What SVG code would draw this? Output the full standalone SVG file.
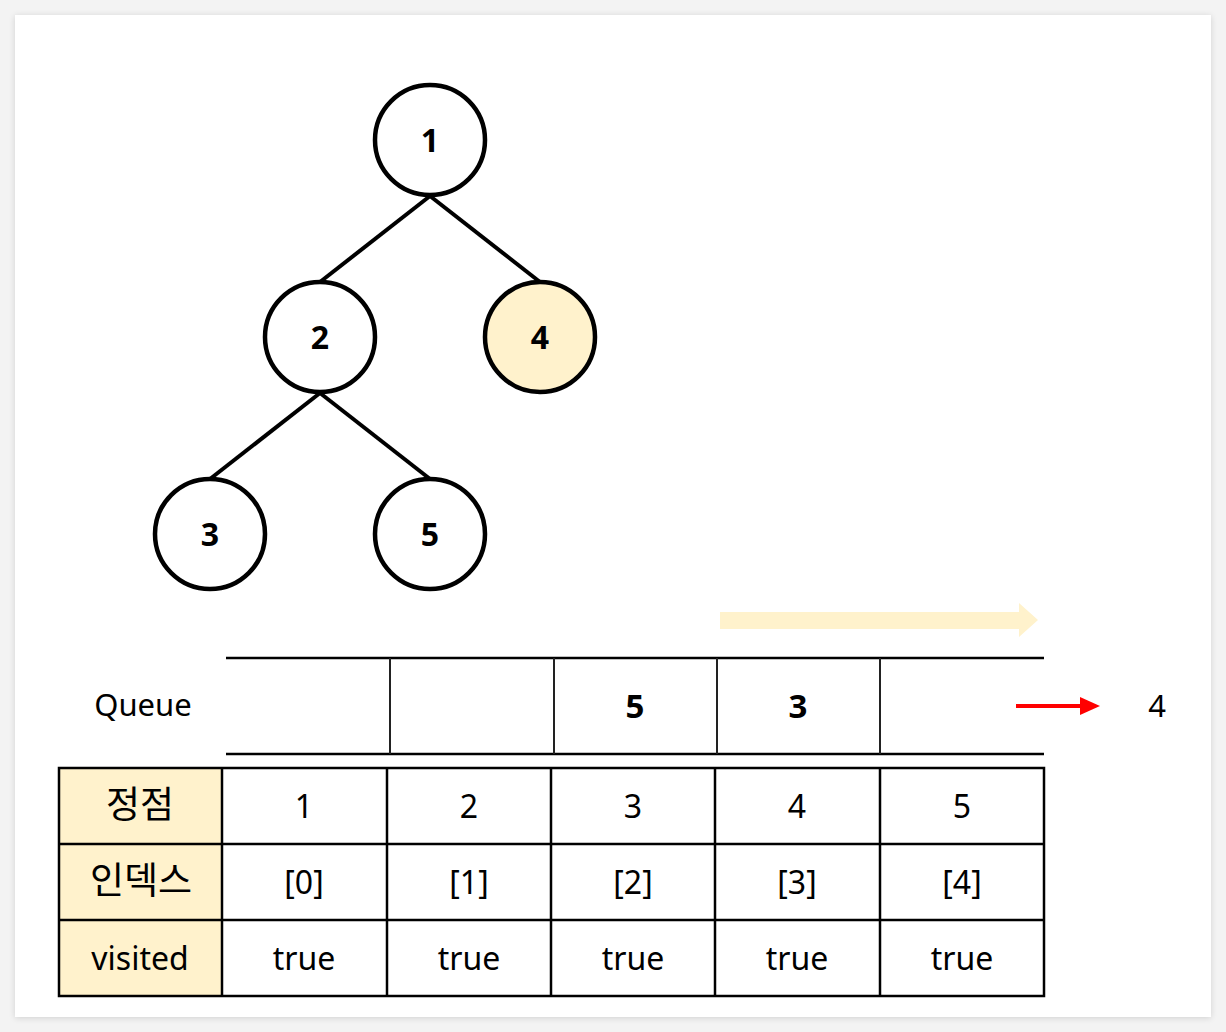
<svg xmlns="http://www.w3.org/2000/svg" width="1226" height="1032" viewBox="0 0 1226 1032">
<defs>
<filter id="sh" x="-5%" y="-5%" width="110%" height="110%"><feGaussianBlur in="SourceAlpha" stdDeviation="3"/><feOffset dy="1"/><feComponentTransfer><feFuncA type="linear" slope="0.15"/></feComponentTransfer><feMerge><feMergeNode/><feMergeNode in="SourceGraphic"/></feMerge></filter>
</defs>
<style>
.node circle{fill:#fff;stroke:#000;stroke-width:4.5}
.node text{font-family:"Noto Sans",sans-serif;font-weight:bold;font-size:32px;text-anchor:middle}
.edge{stroke:#000;stroke-width:4;fill:none}
.t{font-family:"Noto Sans",sans-serif;font-size:32px;text-anchor:middle;fill:#000}
.k{font-family:"Noto Sans CJK KR",sans-serif;font-size:37px;text-anchor:middle;fill:#000}
.b{font-weight:bold;font-size:33px}
.grid{stroke:#000;stroke-width:2.5;fill:none}
</style>
<rect width="1226" height="1032" fill="#f3f3f3"/>
<rect x="15" y="15" width="1196" height="1002" fill="#fff" filter="url(#sh)"/>
<g id="connectors">
<line class="edge" x1="430" y1="196" x2="320" y2="282"/>
<line class="edge" x1="430" y1="196" x2="540" y2="282"/>
<line class="edge" x1="320" y1="393" x2="210" y2="479"/>
<line class="edge" x1="320" y1="393" x2="430" y2="479"/>
</g>
<g id="node1" class="node"><circle cx="430" cy="140" r="55"/><text x="430" y="152">1</text></g>
<g id="node2" class="node"><circle cx="320" cy="337" r="55"/><text x="320" y="349">2</text></g>
<g id="node4" class="node"><circle cx="540" cy="337" r="55" style="fill:#fff2cc"/><text x="540" y="349">4</text></g>
<g id="node3" class="node"><circle cx="210" cy="534" r="55"/><text x="210" y="546">3</text></g>
<g id="node5" class="node"><circle cx="430" cy="534" r="55"/><text x="430" y="546">5</text></g>
<g id="flow-arrow"><polygon points="720,612 1019,612 1019,603 1038,620 1019,637 1019,629 720,629" fill="#fff2cc"/></g>
<g id="queue">
<text class="t" x="143" y="716" style="font-size:31px">Queue</text>
<line class="grid" x1="226" y1="658" x2="1044" y2="658"/>
<line class="grid" x1="226" y1="754" x2="1044" y2="754"/>
<line x1="390" y1="658" x2="390" y2="754" stroke="#222" stroke-width="2"/>
<line x1="554" y1="658" x2="554" y2="754" stroke="#222" stroke-width="2"/>
<line x1="717" y1="658" x2="717" y2="754" stroke="#222" stroke-width="2"/>
<line x1="880" y1="658" x2="880" y2="754" stroke="#222" stroke-width="2"/>
<text class="t b" x="635" y="718">5</text>
<text class="t b" x="798" y="718">3</text>
</g>
<g id="dequeue">
<line x1="1016" y1="706" x2="1082" y2="706" stroke="#f00" stroke-width="4"/>
<polygon points="1080,697 1100,706 1080,715" fill="#f00"/>
<text class="t" x="1157" y="717" style="font-size:31px">4</text>
</g>
<g id="table">
<rect x="59" y="768" width="163" height="228" fill="#fff2cc"/>
<rect class="grid" x="59" y="768" width="985" height="228"/>
<line class="grid" x1="59" y1="844" x2="1044" y2="844"/>
<line class="grid" x1="59" y1="920" x2="1044" y2="920"/>
<line class="grid" x1="222" y1="768" x2="222" y2="996"/>
<line class="grid" x1="387" y1="768" x2="387" y2="996"/>
<line class="grid" x1="551" y1="768" x2="551" y2="996"/>
<line class="grid" x1="715" y1="768" x2="715" y2="996"/>
<line class="grid" x1="880" y1="768" x2="880" y2="996"/>
<text class="k" x="140" y="818">정점</text>
<text class="k" x="141" y="894">인덱스</text>
<text class="t" x="140" y="970">visited</text>
<text class="t" x="304" y="818">1</text>
<text class="t" x="469" y="818">2</text>
<text class="t" x="633" y="818">3</text>
<text class="t" x="797" y="818">4</text>
<text class="t" x="962" y="818">5</text>
<text class="t" x="304" y="894">[0]</text>
<text class="t" x="469" y="894">[1]</text>
<text class="t" x="633" y="894">[2]</text>
<text class="t" x="797" y="894">[3]</text>
<text class="t" x="962" y="894">[4]</text>
<text class="t" x="304" y="970">true</text>
<text class="t" x="469" y="970">true</text>
<text class="t" x="633" y="970">true</text>
<text class="t" x="797" y="970">true</text>
<text class="t" x="962" y="970">true</text>
</g>
</svg>
